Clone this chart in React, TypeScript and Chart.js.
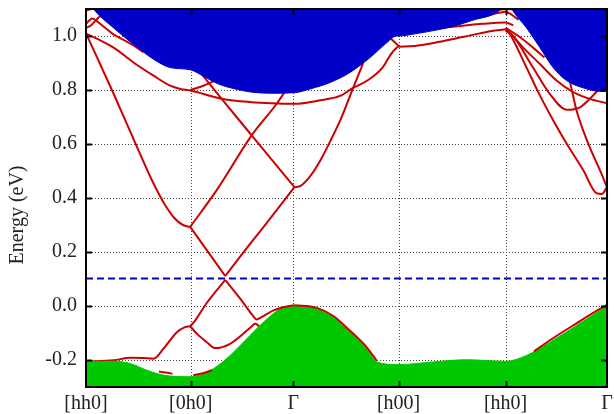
import React, { useEffect, useRef } from "react";
import { Chart, registerables } from "chart.js";

Chart.register(...registerables);

type P = [number, number][];

// ---- axes ----
const xTickValues = [0, 1.005, 1.99, 3.0, 4.027, 5];
const xTickLabels = ["[hh0]", "[0h0]", "Γ", "[h00]", "[hh0]", "Γ"];
const yTickValues = [-0.2, 0.0, 0.2, 0.4, 0.6, 0.8, 1.0];
const yMin = -0.3;
const yMax = 1.1;
const fermiLevel = 0.102;

// ---- bulk projections ----
const conductionEdge: P = [
  [0, 1.14], [0.089, 1.092], [0.265, 1.03], [0.456, 0.969], [0.648, 0.914], [0.808, 0.883],
  [1.0, 0.875], [1.146, 0.847], [1.271, 0.822], [1.431, 0.804], [1.592, 0.792], [1.783, 0.788],
  [2.0, 0.79], [2.152, 0.804], [2.344, 0.828], [2.534, 0.865], [2.726, 0.92], [2.886, 0.975],
  [2.98, 1.0], [3.0, 1.0], [3.157, 1.008], [3.349, 1.021], [3.54, 1.037], [3.733, 1.061],
  [3.893, 1.078], [3.97, 1.095], [4.05, 1.13], [4.1, 1.092], [4.228, 1.03], [4.356, 0.957],
  [4.483, 0.883], [4.612, 0.835], [4.771, 0.808], [4.931, 0.795], [5.0, 0.795],
];
const valenceEdge: P = [
  [0, -0.205], [0.265, -0.205], [0.425, -0.213], [0.585, -0.238], [0.744, -0.256], [1.0, -0.262],
  [1.223, -0.232], [1.383, -0.183], [1.544, -0.121], [1.703, -0.06], [1.863, -0.011], [1.95, -0.002],
  [2.0, 0.0], [2.055, -0.001], [2.215, -0.011], [2.374, -0.042], [2.534, -0.097], [2.694, -0.158],
  [2.79, -0.207], [3.0, -0.217], [3.333, -0.207], [3.653, -0.199], [4.027, -0.205], [4.228, -0.183],
  [4.452, -0.134], [4.708, -0.072], [4.931, -0.017], [5.0, 0.0],
];

// ---- surface bands (drawn under bulk) ----
const bandA: P = [[0, -0.206], [0.265, -0.201], [0.425, -0.192], [0.55, -0.193], [0.648, -0.195], [0.744, -0.158], [0.872, -0.097], [0.95, -0.078], [1.0, -0.075]];
const bandLowerCone: P = [[1.0, -0.075], [1.04, -0.058], [1.16, 0.012], [1.336, 0.097]];
const bandL2a: P = [[1.0, -0.075], [1.07, -0.105], [1.16, -0.134], [1.24, -0.156], [1.383, -0.14], [1.544, -0.091], [1.623, -0.064]];
const bandL2b: P = [[1.623, -0.064], [1.66, -0.075], [1.7, -0.095]];
const bandUpperConeL: P = [[1.0, 0.293], [1.336, 0.111]];
const bandUpperConeR: P = [[1.336, 0.111], [1.544, 0.215], [1.735, 0.308], [2.0, 0.44]];
const bandA2: P = [[0, 1.01], [0.265, 0.786], [0.489, 0.589], [0.64, 0.46], [0.75, 0.38], [0.85, 0.325], [0.93, 0.3], [1.0, 0.293]];
const bandB: P = [[1.0, 0.293], [1.256, 0.43], [1.59, 0.632], [1.83, 0.749], [1.92, 0.8]];
const bandC: P = [[1.04, 0.895], [1.098, 0.865], [1.59, 0.632], [2.0, 0.44]];
const bandD: P = [
  [0, 1.01], [0.265, 0.957], [0.456, 0.902], [0.648, 0.853], [0.808, 0.816], [0.905, 0.804], [1.0, 0.798],
  [1.31, 0.767], [1.59, 0.755], [1.78, 0.751], [2.0, 0.749], [2.25, 0.762], [2.45, 0.78], [2.55, 0.805],
  [2.7, 0.835], [2.85, 0.885], [2.93, 0.935], [3.0, 0.963],
];
const bandDBranch: P = [[1.0, 0.8], [1.12, 0.815], [1.24, 0.835]];
const bandGammaUp: P = [[2.0, 0.44], [2.06, 0.445], [2.15, 0.48], [2.25, 0.54], [2.35, 0.615], [2.45, 0.697], [2.566, 0.81], [2.66, 0.9]];
const bandH00Branch: P = [[2.9, 1.0], [3.0, 0.963]];
const bandH00: P = [[3.0, 0.96], [3.157, 0.963], [3.349, 0.975], [3.54, 0.99], [3.733, 1.006], [3.924, 1.02], [4.027, 1.025]];
const bandE1: P = [[3.4, 1.03], [3.6, 1.037], [3.8, 1.045], [4.027, 1.05], [4.1, 1.04]];
const bandE2: P = [[3.6, 1.055], [3.8, 1.07], [3.95, 1.085], [4.027, 1.09], [4.08, 1.08], [4.15, 1.06]];
const bandE3: P = [[3.75, 1.075], [3.9, 1.092], [4.027, 1.1], [4.1, 1.098]];
const bandT1: P = [[0, 1.045], [0.06, 1.065], [0.12, 1.05], [0.25, 1.01], [0.456, 0.965], [0.55, 0.94]];
const bandT2: P = [[0, 1.03], [0.05, 1.04], [0.1, 1.06], [0.15, 1.08], [0.2, 1.1]];
const bandT3: P = [[0, 1.095], [0.05, 1.1], [0.1, 1.11]];
const bandR1: P = [[4.027, 1.025], [4.08, 1.006], [4.196, 0.957], [4.356, 0.896], [4.516, 0.835], [4.675, 0.792], [4.835, 0.767], [5.0, 0.751]];
const bandR2: P = [[4.027, 1.02], [4.1, 1.0], [4.29, 0.883], [4.45, 0.786], [4.612, 0.727], [4.74, 0.736], [4.85, 0.773], [4.93, 0.808], [4.98, 0.84]];
const bandR3: P = [[4.58, 0.9], [4.637, 0.841], [4.708, 0.724], [4.819, 0.602], [4.931, 0.504], [5.0, 0.44]];
const bandR4: P = [[4.027, 1.03], [4.08, 1.0], [4.228, 0.883], [4.34, 0.792], [4.483, 0.688], [4.612, 0.602], [4.771, 0.504], [4.899, 0.418], [4.95, 0.415], [5.0, 0.44]];
const bandR5: P = [[4.027, 1.03], [4.15, 1.0], [4.29, 0.957], [4.4, 0.92]];

// ---- bands hugging the valence edge (drawn over bulk) ----
const edgeLowerCone: P = [[1.336, 0.097], [1.48, 0.027], [1.6, -0.035], [1.64, -0.05], [1.68, -0.042], [1.8, -0.016], [1.9, -0.004], [2.0, 0.003]];
const edgeGammaH00: P = [[2.0, 0.003], [2.215, -0.007], [2.374, -0.037], [2.534, -0.092], [2.694, -0.153], [2.79, -0.203]];
const edgeHH0Gamma: P = [[4.3, -0.168], [4.452, -0.127], [4.708, -0.064], [4.931, -0.011], [5.0, 0.004]];
const edgeBottomLeft1: P = [[0.7, -0.243], [0.78, -0.247], [0.83, -0.251]];
const edgeBottomLeft2: P = [[1.03, -0.256], [1.1, -0.251], [1.21, -0.238]];

const underBands: P[] = [
  bandA, bandLowerCone, bandL2a, bandL2b, bandUpperConeL, bandUpperConeR, bandA2, bandB, bandC,
  bandD, bandDBranch, bandGammaUp, bandH00Branch, bandH00, bandE1, bandE2, bandE3, bandT1, bandT2,
  bandT3, bandR1, bandR2, bandR3, bandR4, bandR5,
];
const overBands: P[] = [edgeLowerCone, edgeGammaH00, edgeHH0Gamma, edgeBottomLeft1, edgeBottomLeft2];

const RED = "#cc0000";
const BLUE = "#0000c8";
const GREEN = "#00c800";
const FONT = "Liberation Serif, Tinos, Times New Roman, DejaVu Serif, serif";

const toXY = (p: P) => p.map(([x, y]) => ({ x, y }));

const framePlugin = {
  id: "frame",
  beforeDatasetsDraw(chart: any) {
    const { ctx, chartArea: a, scales } = chart;
    const xs = scales.x;
    const ys = scales.y;
    ctx.save();
    ctx.strokeStyle = "#444";
    ctx.lineWidth = 1;
    ctx.setLineDash([1, 2]);
    for (const v of yTickValues) {
      const py = Math.round(ys.getPixelForValue(v)) + 0.5;
      ctx.beginPath();
      ctx.moveTo(a.left, py);
      ctx.lineTo(a.right, py);
      ctx.stroke();
    }
    for (const v of xTickValues.slice(1, -1)) {
      const px = Math.round(xs.getPixelForValue(v)) + 0.5;
      ctx.beginPath();
      ctx.moveTo(px, a.top);
      ctx.lineTo(px, a.bottom);
      ctx.stroke();
    }
    ctx.restore();
  },
  afterDraw(chart: any) {
    const { ctx, chartArea: a, scales } = chart;
    const xs = scales.x;
    const ys = scales.y;
    ctx.save();
    ctx.strokeStyle = "#000";
    ctx.lineWidth = 2;
    ctx.setLineDash([]);
    ctx.strokeRect(a.left, a.top, a.right - a.left, a.bottom - a.top);
    const tl = 6;
    for (const v of yTickValues) {
      const py = Math.round(ys.getPixelForValue(v)) + 0.5;
      ctx.beginPath();
      ctx.moveTo(a.left, py);
      ctx.lineTo(a.left + tl, py);
      ctx.moveTo(a.right, py);
      ctx.lineTo(a.right - tl, py);
      ctx.stroke();
    }
    for (const v of xTickValues.slice(1, -1)) {
      const px = Math.round(xs.getPixelForValue(v)) + 0.5;
      ctx.beginPath();
      ctx.moveTo(px, a.bottom);
      ctx.lineTo(px, a.bottom - tl);
      ctx.moveTo(px, a.top);
      ctx.lineTo(px, a.top + tl);
      ctx.stroke();
    }
    ctx.translate(18, 215);
    ctx.rotate(-Math.PI / 2);
    ctx.fillStyle = "#222";
    ctx.font = `20px ${FONT}`;
    ctx.textAlign = "center";
    ctx.textBaseline = "middle";
    ctx.fillText("Energy (eV)", 0, 0);
    ctx.restore();
  },
};

export default function App() {
  const ref = useRef<HTMLCanvasElement | null>(null);

  useEffect(() => {
    if (!ref.current) return;
    const lineBase = {
      pointRadius: 0,
      fill: false,
      cubicInterpolationMode: "monotone" as const,
      clip: 0,
    };
    const datasets: any[] = [
      {
        ...lineBase,
        data: toXY([[0, fermiLevel], [5, fermiLevel]]),
        borderColor: BLUE,
        borderWidth: 2,
        borderDash: [7, 4],
        order: 0,
      },
      ...overBands.map((b) => ({ ...lineBase, data: toXY(b), borderColor: RED, borderWidth: 2, order: 1 })),
      {
        ...lineBase,
        data: toXY(conductionEdge),
        borderColor: BLUE,
        backgroundColor: BLUE,
        borderWidth: 1,
        fill: "end",
        order: 2,
      },
      {
        ...lineBase,
        data: toXY(valenceEdge),
        borderColor: GREEN,
        backgroundColor: GREEN,
        borderWidth: 1,
        fill: "start",
        order: 2,
      },
      ...underBands.map((b) => ({ ...lineBase, data: toXY(b), borderColor: RED, borderWidth: 2, order: 3 })),
    ];

    const chart = new Chart(ref.current, {
      type: "line",
      data: { datasets },
      plugins: [framePlugin],
      options: {
        responsive: false,
        animation: false,
        devicePixelRatio: 1,
        layout: { padding: { left: 0, right: 7, top: 9, bottom: 0 } },
        plugins: { legend: { display: false }, tooltip: { enabled: false } },
        scales: {
          x: {
            type: "linear",
            min: 0,
            max: 5,
            afterBuildTicks: (s: any) => {
              s.ticks = xTickValues.map((v) => ({ value: v }));
            },
            afterFit: (s: any) => {
              s.height = 27;
              s.paddingLeft = 0;
              s.paddingRight = 0;
            },
            grid: { display: false, drawTicks: false },
            border: { display: false },
            ticks: {
              autoSkip: false,
              maxRotation: 0,
              padding: 5,
              color: "#222",
              font: { family: FONT, size: 20 },
              callback: (v: any) => xTickLabels[xTickValues.indexOf(Number(v))] ?? "",
            },
          },
          y: {
            type: "linear",
            min: yMin,
            max: yMax,
            afterBuildTicks: (s: any) => {
              s.ticks = yTickValues.map((v) => ({ value: v }));
            },
            afterFit: (s: any) => {
              s.width = 86;
              s.paddingTop = 0;
              s.paddingBottom = 0;
            },
            grid: { display: false, drawTicks: false },
            border: { display: false },
            ticks: {
              padding: 9,
              color: "#222",
              font: { family: FONT, size: 20 },
              callback: (v: any) => Number(v).toFixed(1),
            },
          },
        },
      },
    });
    return () => chart.destroy();
  }, []);

  return (
    <div style={{ position: "absolute", left: 0, top: 0, width: 614, height: 414, background: "#fff" }}>
      <canvas ref={ref} width={614} height={414} />
    </div>
  );
}
